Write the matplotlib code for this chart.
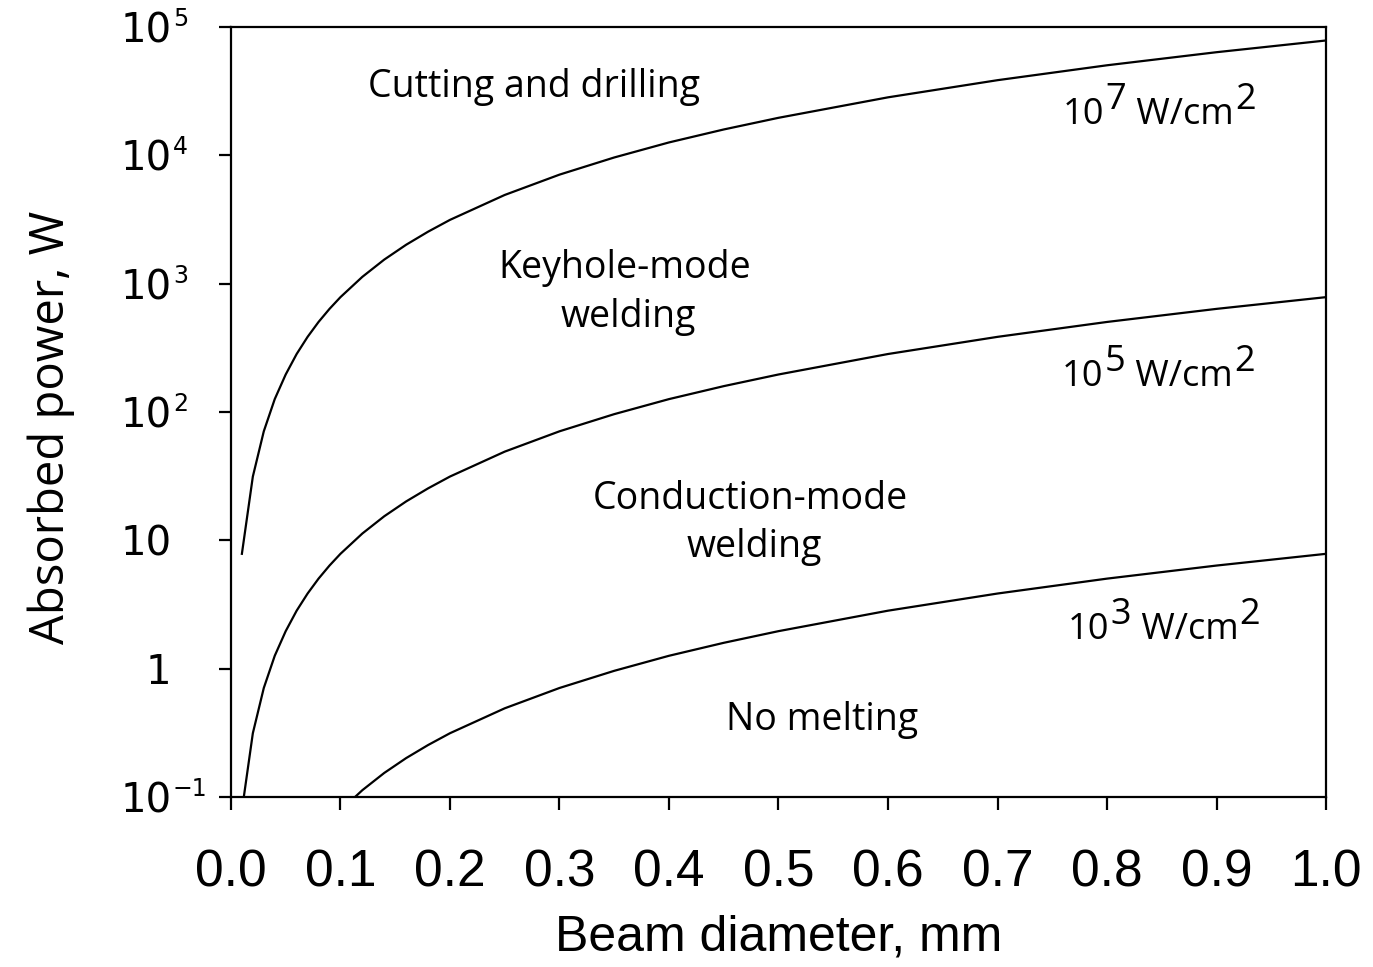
import matplotlib
matplotlib.use("Agg")
import matplotlib.pyplot as plt
import matplotlib.transforms as mtransforms

# beam diameter, mm
diam = [0.01, 0.02, 0.03, 0.04, 0.05, 0.06, 0.07, 0.08, 0.09, 0.10, 0.12,
        0.14, 0.16, 0.18, 0.20, 0.25, 0.30, 0.35, 0.40, 0.45, 0.50, 0.60,
        0.70, 0.80, 0.90, 1.00]

# absorbed power, W, for each power density
p_1e7 = [7.85, 31.4, 70.7, 126, 196, 283, 385, 503, 636, 785, 1130,
         1540, 2010, 2540, 3140, 4910, 7070, 9620, 12600, 15900, 19600, 28300,
         38500, 50300, 63600, 78500]
p_1e5 = [0.0785, 0.314, 0.707, 1.26, 1.96, 2.83, 3.85, 5.03, 6.36, 7.85, 11.3,
         15.4, 20.1, 25.4, 31.4, 49.1, 70.7, 96.2, 126, 159, 196, 283,
         385, 503, 636, 785]
p_1e3 = [None, None, None, None, None, None, None, None, None, 0.0785, 0.113,
         0.154, 0.201, 0.254, 0.314, 0.491, 0.707, 0.962, 1.26, 1.59, 1.96, 2.83,
         3.85, 5.03, 6.36, 7.85]

xticks = [0.0, 0.1, 0.2, 0.3, 0.4, 0.5, 0.6, 0.7, 0.8, 0.9, 1.0]
yticks = [1e-1, 1, 10, 1e2, 1e3, 1e4, 1e5]
ytick_base = ["10", "1", "10", "10", "10", "10", "10"]
ytick_sup = ["\u22121", "", "", "2", "3", "4", "5"]

sans = ["Open Sans", "DejaVu Sans"]
tickfont = ["DejaVu Sans"]
narrow = ["Liberation Sans", "DejaVu Sans"]

fig = plt.figure(figsize=(13.73, 9.67), dpi=100)
ax = fig.add_axes([0.1682, 0.1758, 0.7976, 0.7963])

for p in (p_1e7, p_1e5, p_1e3):
    xs = [d for d, v in zip(diam, p) if v is not None]
    ys = [v for v in p if v is not None]
    ax.plot(xs, ys, color="black", lw=1.6)

ax.set_yscale("log")
ax.set_xlim(0, 1.0)
ax.set_ylim(0.1, 1e5)

ax.set_xticks(xticks)
ax.set_xticklabels([f"{t:.1f}" for t in xticks], family=narrow, fontsize=37)
ax.set_yticks(yticks)
ax.set_yticklabels(ytick_base, family=tickfont, fontsize=29)
ax.yaxis.set_minor_locator(plt.NullLocator())
ax.tick_params(axis="x", direction="out", length=9, width=1.6, pad=28)
ax.tick_params(axis="y", direction="out", length=9, width=1.6, pad=34)
for s in ax.spines.values():
    s.set_linewidth(1.6)

# superscripts on y tick labels
trans = mtransforms.blended_transform_factory(ax.transAxes, ax.transData)
off = mtransforms.ScaledTranslation(-58 / 100, 20 / 100, fig.dpi_scale_trans)
for y, sup in zip(yticks, ytick_sup):
    if sup:
        ax.text(0, y, sup, transform=trans + off, family=tickfont, fontsize=17,
                ha="left", va="top")

ax.set_xlabel("Beam diameter, mm", family=narrow, fontsize=36, labelpad=12)
ax.set_ylabel("Absorbed power, W", family=sans, fontsize=34)
ax.yaxis.set_label_coords(-0.142, 0.48)

# region labels (baseline positions)
tk = dict(family=sans, fontsize=27, ha="center", va="baseline")
ax.text(0.277, 2.85e4, "Cutting and drilling", **tk)
ax.text(0.360, 1100, "Keyhole-mode", **tk)
ax.text(0.363, 459, "welding", **tk)
ax.text(0.474, 17.5, "Conduction-mode", **tk)
ax.text(0.478, 7.4, "welding", **tk)
ax.text(0.540, 0.33, "No melting", **tk)


def density_label(x, y, power):
    # "10^n W/cm^2" with full-size raised exponents
    kw = dict(family=sans, fontsize=26)
    t = ax.text(x, y, "10", ha="left", va="baseline", **kw)
    parts = [(power, 15), (" W/cm", -15), ("2", 15)]
    for s, dy in parts:
        t = ax.annotate(s, xy=(1, 0), xycoords=t, xytext=(1, dy),
                        textcoords="offset pixels", ha="left", va="bottom", **kw)


density_label(0.760, 1.75e4, "7")
density_label(0.759, 160, "5")
density_label(0.764, 1.7, "3")

fig.savefig("out.png", dpi=100)
